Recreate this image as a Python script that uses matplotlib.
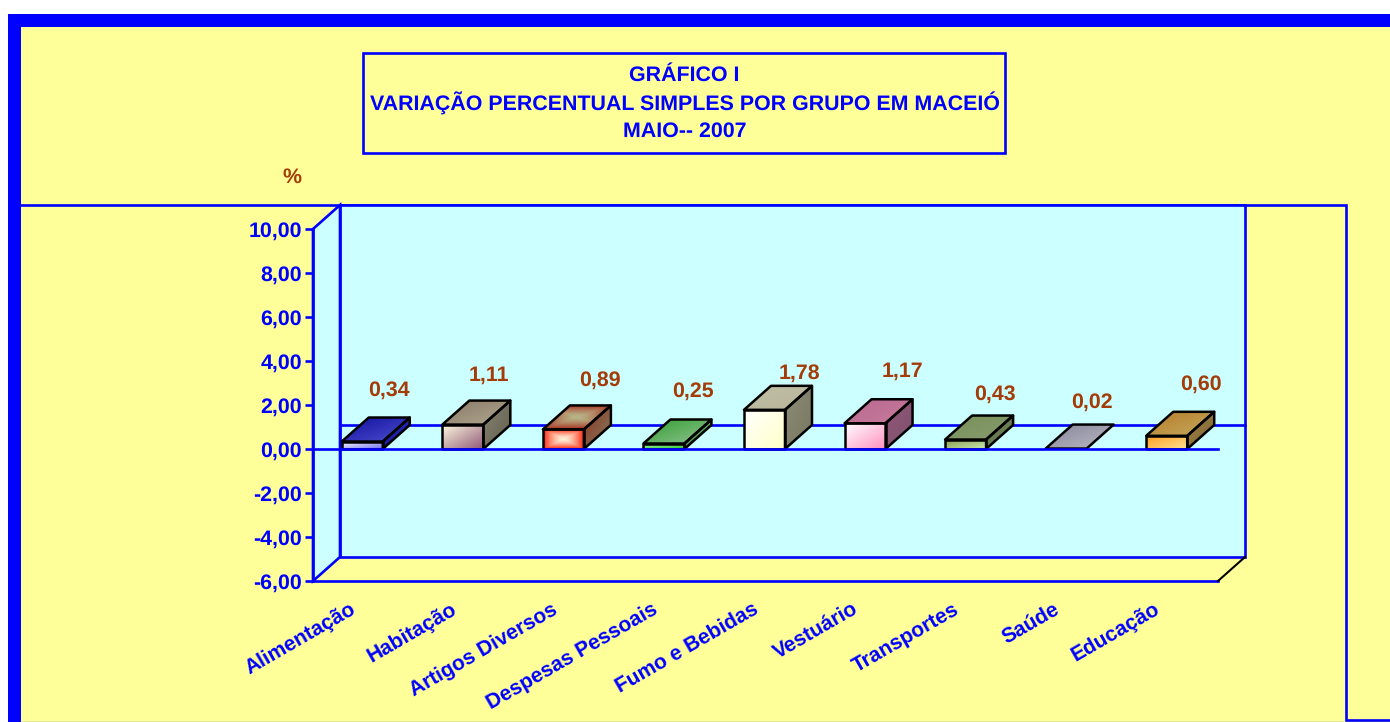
import numpy as np
import matplotlib
matplotlib.use("Agg")
import matplotlib.pyplot as plt
from matplotlib.patches import Polygon, Rectangle
from matplotlib.colors import LinearSegmentedColormap

plt.rcParams['font.family'] = ['Liberation Sans', 'DejaVu Sans']
plt.rcParams['text.hinting'] = 'no_hinting'

categories = ["Alimentação", "Habitação", "Artigos Diversos", "Despesas Pessoais",
              "Fumo e Bebidas", "Vestuário", "Transportes", "Saúde", "Educação"]
values = [0.34, 1.11, 0.89, 0.25, 1.78, 1.17, 0.43, 0.02, 0.60]
value_labels = ["0,34", "1,11", "0,89", "0,25", "1,78", "1,17", "0,43", "0,02", "0,60"]
y_ticks = [-6, -4, -2, 0, 2, 4, 6, 8, 10]
y_labels = ["-6,00", "-4,00", "-2,00", "0,00", "2,00", "4,00", "6,00", "8,00", "10,00"]
title_lines = ["GRÁFICO I", "VARIAÇÃO PERCENTUAL SIMPLES POR GRUPO EM MACEIÓ", "MAIO-- 2007"]

# value labels were placed by hand in the original, nudges in pixels (right, down)
label_nudge = [(1, 1), (0, 3), (11, 3), (3, 0), (9, 15), (11, 0), (3, 7), (0, 6), (8, 1)]

# front / top / side gradient colours for each bar (start, end)
front_colors = [("#ffffff", "#7070f0"), ("#fffbe0", "#905a78"), ("#fff0d8", "#ff2a10"),
                ("#a0f0a0", "#30d030"), ("#ffffff", "#ffffc8"), ("#ffffff", "#ff90c0"),
                ("#8a9a50", "#c8e8b0"), ("#a0a0b0", "#a0a0b0"), ("#ff9c20", "#ffe090")]
top_colors = [("#1010a0", "#5050d0"), ("#8a7a68", "#b0a890"), ("#b8b488", "#a83020"),
              ("#30a030", "#90c090"), ("#c0c0a8", "#b8b498"), ("#b86890", "#c87c9c"),
              ("#789058", "#889c70"), ("#88889a", "#b8b8c4"), ("#b87c28", "#c4aa60")]
side_colors = [("#101090", "#3030c0"), ("#8a8270", "#606050"), ("#903020", "#808060"),
               ("#309030", "#80b080"), ("#8c8c78", "#787860"), ("#905878", "#805070"),
               ("#60764a", "#708058"), ("#888898", "#888898"), ("#a08040", "#806838")]
radial_bars = [2]

BLUE = "#0000ff"
BROWN = "#a33c08"
YELLOW = "#ffff99"
CYAN = "#ccffff"
LW = 1.9

W, H = 1390, 722
fig = plt.figure(figsize=(W / 100, H / 100), dpi=100, facecolor="white")


def px_rect(x0, y0, x1, y1):
    return [x0 / W, 1 - y1 / H, (x1 - x0) / W, (y1 - y0) / H]


# overlay in pixel coordinates for frame and title
bg = fig.add_axes([0, 0, 1, 1])
bg.set_xlim(0, W)
bg.set_ylim(H, 0)
bg.axis("off")
bg.add_patch(Rectangle((8, 14), W - 8, H - 14, fc=BLUE, ec="none"))
bg.add_patch(Rectangle((21, 27), W - 21, H - 27, fc=YELLOW, ec="none"))
bg.plot([20, 1346, 1346, W], [205, 205, 720, 720], color=BLUE, lw=LW, solid_joinstyle="miter")
bg.plot([20, 1346], [721.5, 721.5], color="#8080a0", lw=1)
bg.add_patch(Rectangle((363, 53), 642, 100, fc=YELLOW, ec=BLUE, lw=LW))
for line, y in zip(title_lines, [75.5, 103.5, 131.5]):
    bg.text(684.5, y, line, color=BLUE, fontsize=15.4, fontweight="bold", ha="center", va="center")
bg.text(292, 177.5, "%", color=BROWN, fontsize=15.4, fontweight="bold", ha="center", va="center")

# main axes: front plane of the pseudo 3D plot
ax = fig.add_axes(px_rect(313, 229, 1218, 581))
ax.patch.set_alpha(0)
nx = len(categories)
ymin, ymax = -6, 10
px_x = nx / 905
px_y = (ymax - ymin) / 352
dx = 27 * px_x
dy = 24 * px_y

wall = [(dx, ymin + dy), (nx + dx, ymin + dy), (nx + dx, ymax + dy), (dx, ymax + dy)]
left = [(0, ymin), (dx, ymin + dy), (dx, ymax + dy), (0, ymax)]
ax.add_patch(Polygon(wall, closed=True, fc=CYAN, ec=BLUE, lw=LW, clip_on=False, zorder=1))
ax.add_patch(Polygon(left, closed=True, fc=CYAN, ec=BLUE, lw=LW, clip_on=False, zorder=1))

# floor is open: front edge in blue, right edge in black
ax.plot([0, nx], [ymin, ymin], color=BLUE, lw=LW, clip_on=False, zorder=2)
ax.plot([nx, nx + dx], [ymin, ymin + dy], color="black", lw=1.5, clip_on=False, zorder=2)

# zero line on the back wall and on the front plane
ax.plot([dx, nx + dx], [dy, dy], color=BLUE, lw=LW, clip_on=False, zorder=2)
ax.plot([0, nx], [0, 0], color=BLUE, lw=LW, clip_on=False, zorder=6)


def shaded(poly, colors, z, radial=False):
    xs = [p[0] for p in poly]
    ys = [p[1] for p in poly]
    cmap = LinearSegmentedColormap.from_list("f", colors)
    u, w = np.meshgrid(np.linspace(0, 1, 48), np.linspace(0, 1, 48))
    if radial:
        grad = np.clip(np.maximum(np.abs(u - 0.5), np.abs(w - 0.5)) * 2, 0, 1) ** 1.5
    else:
        # upper left to lower right
        grad = (u + (1 - w)) / 2
    im = ax.imshow(grad, extent=(min(xs), max(xs), min(ys), max(ys)), origin="lower",
                   aspect="auto", cmap=cmap, vmin=0, vmax=1, zorder=z, interpolation="bilinear")
    patch = Polygon(poly, closed=True, fc="none", ec="black", lw=1.8, joinstyle="round",
                    clip_on=False, zorder=z + 0.1)
    ax.add_patch(patch)
    im.set_clip_path(patch)
    im.set_clip_on(True)


bar_w = 41 * px_x
for i, v in enumerate(values):
    c = i + 0.49
    x0, x1 = c - bar_w / 2, c + bar_w / 2
    z = 3 + i * 0.01
    if v > 0.05:
        shaded([(x0, 0), (x1, 0), (x1, v), (x0, v)], front_colors[i], z, i in radial_bars)
        shaded([(x1, 0), (x1 + dx, dy), (x1 + dx, v + dy), (x1, v)], side_colors[i], z)
    shaded([(x0, v), (x1, v), (x1 + dx, v + dy), (x0 + dx, v + dy)], top_colors[i], z,
           i in radial_bars)
    nudge_x, nudge_y = label_nudge[i]
    ax.text(c + (26 + nudge_x) * px_x, v + dy + (28 - nudge_y) * px_y, value_labels[i],
            color=BROWN, fontsize=15.4, fontweight="bold", ha="center", va="center", zorder=7)

ax.set_xlim(0, nx)
ax.set_ylim(ymin, ymax)
for s in ax.spines.values():
    s.set_visible(False)
ax.spines["left"].set_visible(True)
ax.spines["left"].set_color(BLUE)
ax.spines["left"].set_linewidth(LW)
ax.spines["left"].set_zorder(5)
ax.set_yticks(y_ticks)
ax.set_yticklabels(y_labels, color=BLUE, fontsize=15.4, fontweight="bold")
ax.tick_params(axis="y", color=BLUE, width=LW, length=6, pad=2)
ax.set_xticks(np.arange(nx) + 0.49 - 13 * px_x)
ax.set_xticklabels(categories, color=BLUE, fontsize=15, fontweight="bold", rotation=30,
                   ha="right", va="top", rotation_mode="anchor")
ax.tick_params(axis="x", length=0, pad=13)

fig.savefig("out.png", dpi=100)
